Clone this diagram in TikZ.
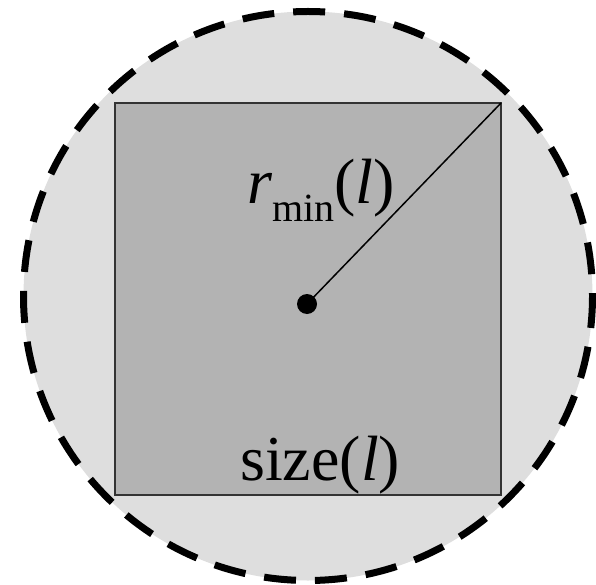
\documentclass[tikz,border=0pt]{standalone}
\usepackage{fontspec}
\setmainfont{Liberation Serif}
\definecolor{outerfill}{HTML}{DEDEDE}
\definecolor{innerfill}{HTML}{B3B3B3}
\definecolor{edgegray}{HTML}{333333}
\tikzset{
  ringstyle/.style={fill=outerfill, draw=black, line width=7pt, dash pattern=on 32pt off 19pt},
  boxstyle/.style={fill=innerfill, draw=edgegray, line width=1.5pt},
  labelstyle/.style={inner sep=0pt, anchor=base west, font=\fontsize{64}{70}\selectfont},
}
\begin{document}
\begin{tikzpicture}[x=1pt,y=-1pt]
\useasboundingbox (0,0) rectangle (596,585);
\coordinate (ctr) at (308,296);
\draw[ringstyle] (ctr) circle[radius=284.5];
\draw[boxstyle] (115,103) rectangle (501,495);
\coordinate (corner) at (501,103);
\node[circle, fill=black, inner sep=0pt, minimum size=20pt] (dot) at (307,304) {};
\draw[line width=1.5pt] (dot.center) -- (corner);
\node[labelstyle] (rlab) at (247,204) {\textit{r}\raisebox{-0.28em}{\fontsize{40}{40}\selectfont min}(\textit{l})};
\node[labelstyle] (slab) at (240,480) {size(\textit{l})};
\end{tikzpicture}
\end{document}
